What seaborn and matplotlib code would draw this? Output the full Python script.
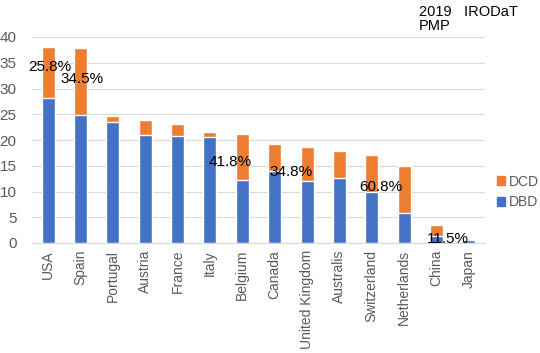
import matplotlib
matplotlib.use("Agg")
import matplotlib.pyplot as plt
import seaborn as sns
import pandas as pd
from matplotlib.patches import Patch

countries = ["USA", "Spain", "Portugal", "Austria", "France", "Italy", "Belgium",
             "Canada", "United Kingdom", "Australis", "Switzerland", "Netherlands",
             "China", "Japan"]
dbd = [28.2, 24.8, 23.5, 21.0, 20.7, 20.5, 12.2, 14.0, 12.0, 12.6, 10.0, 5.8, 1.4, 0.6]
dcd = [9.8, 13.1, 1.1, 2.9, 2.4, 1.1, 9.0, 5.2, 6.6, 5.3, 7.0, 9.1, 2.1, 0.0]
pct_labels = ["25.8%", "34.5%", "41.8%", "34.8%", "60.8%", "11.5%"]
pct_x = [0.06, 1.06, 5.63, 7.5, 10.28, 12.35]
pct_y = [34.2, 31.8, 15.7, 13.8, 10.9, 0.8]

sns.set_theme(style="white")
plt.rcParams['font.family'] = ['Liberation Sans', 'DejaVu Sans']

df = pd.DataFrame({"country": countries, "DBD": dbd, "DCD": dcd})
df["total"] = df["DBD"] + df["DCD"]

blue = "#4472C4"
orange = "#ED7D31"

fig = plt.figure(figsize=(5.4, 3.53), dpi=100)
ax = fig.add_axes([32/540, 1-243/353, (485-32)/540, (243-37)/353])

sns.barplot(data=df, x="country", y="total", color=orange, width=0.4,
            saturation=1, ax=ax, zorder=2)
sns.barplot(data=df, x="country", y="DBD", color=blue, width=0.4,
            saturation=1, ax=ax, zorder=3)

ax.set_ylim(0, 40)
ax.set_xlim(-0.5, 13.5)
ax.set_yticks(range(0, 41, 5))
ax.yaxis.grid(True, color="#d9d9d9", linewidth=0.8, zorder=0)
ax.set_axisbelow(True)
for s in ["top", "right", "left"]:
    ax.spines[s].set_visible(False)
ax.spines["bottom"].set_color("#d9d9d9")
ax.spines["bottom"].set_linewidth(0.8)
ax.set_xlabel("")
ax.set_ylabel("")
ax.tick_params(axis="both", length=0, colors="#595959", labelsize=11)
ax.tick_params(axis="x", labelsize=10)
ax.tick_params(axis="y", pad=11)
ax.tick_params(axis="x", pad=5)
plt.setp(ax.get_xticklabels(), rotation=90)

for t, x, y in zip(pct_labels, pct_x, pct_y):
    ax.text(x, y, t, ha="center", va="center", fontsize=11, color="black", zorder=5)

fig.text(419/540, 1-5/353, "2019   IRODaT\nPMP", ha="left", va="top",
         fontsize=10.5, color="black", linespacing=1.0)

handles = [Patch(color=orange, label="DCD"), Patch(color=blue, label="DBD")]
fig.legend(handles=handles, loc="center left", bbox_to_anchor=(497/540, 1-192/353),
           frameon=False, fontsize=10, handlelength=0.6, handleheight=0.6,
           handletextpad=0.25, labelspacing=0.5, labelcolor="#595959",
           borderpad=0, borderaxespad=0)

fig.savefig("out.png", dpi=100)
